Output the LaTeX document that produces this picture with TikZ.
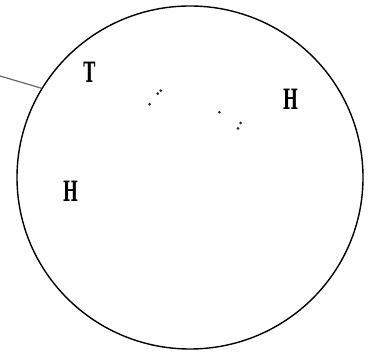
\documentclass[tikz,border=0pt]{standalone}
\usepackage{fontspec}
\newfontfamily\coinfont{DejaVu Serif}
\usepackage{tikz}
\usetikzlibrary{positioning,shapes.geometric}

\begin{document}
\begin{tikzpicture}[x=1pt,y=1pt,
  ring/.style={draw,ellipse,line width=1.4pt,minimum width=346pt,minimum height=343pt,inner sep=0pt},
  coin/.style={font=\coinfont\fontsize{28}{30}\selectfont\bfseries,xscale=0.58,transform shape,inner sep=0pt},
  speck/.style={circle,fill=black!85,minimum size=3pt,inner sep=0pt},
  lead/.style={draw=black!60,line width=1.2pt}]
  \useasboundingbox (0,0) rectangle (372,353);
  % the disc
  \node[ring] (disc) at (190,175.5) {};
  \coordinate (tail) at (0,277);
  \draw[lead] (tail) -- (disc.149.3);
  % letters
  \node[coin] (t1) at (89.5,280.5) {T};
  \node[coin] (h1) at (290.5,253.5) {H};
  \node[coin] (h2) at (70.5,161.5) {H};
  % specks
  \foreach \x/\y [count=\i] in {160.7/262.3,157.7/259.3,149.7/248.7,219.3/240.7,240.7/230,238/224.7}
    \node[speck] (s\i) at (\x,\y) {};
\end{tikzpicture}
\end{document}
